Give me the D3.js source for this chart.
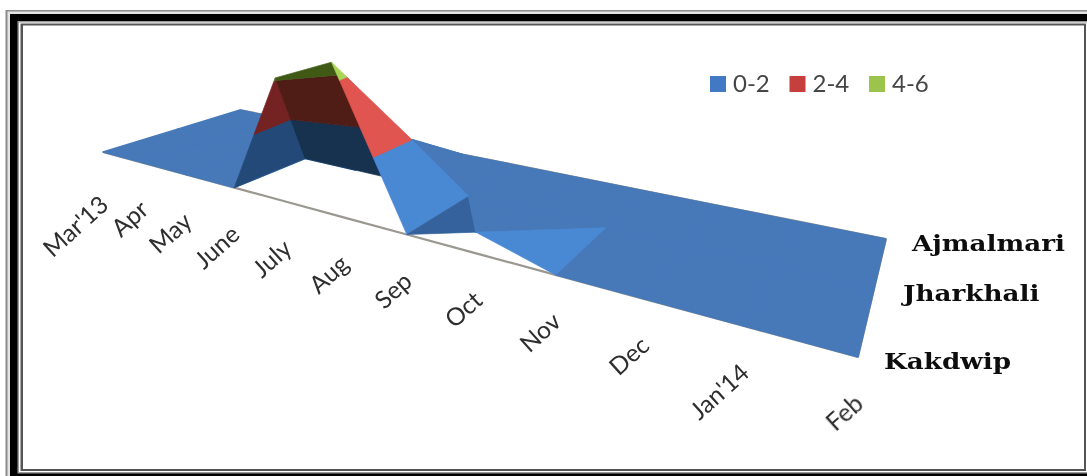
<!DOCTYPE html>
<html><head><meta charset="utf-8">
<style>html,body{margin:0;padding:0;background:#fff}svg{display:block}</style>
<script src="https://cdnjs.cloudflare.com/ajax/libs/d3/7.8.5/d3.min.js"></script>
</head><body><svg id="c" width="1087" height="476"></svg>
<script>
// ---- data ----
const months = ["Mar'13","Apr","May","June","July","Aug","Sep","Oct","Nov","Dec","Jan'14","Feb"];
const rows = ["Kakdwip","Jharkhali","Ajmalmari"];
const kakdwip   = [0,0,0,0,4.13,4.47,0,0.45,0,0,0,0];
const jharkhali = [0,0,0,0,0,2.0,0,0,0,0,0,0];
const ajmalmari = [0,0,0,0,0,0,0,0,0,0,0,0];
const bandNames = ["0-2","2-4","4-6"];
const bandEdges = [0,2,4,6];

const values = [kakdwip, jharkhali, ajmalmari];
const legendColor = ["#4279c4","#c53f3c","#9cc44c"];
const shades = {
  flat:   ["#4679b9","#4679b9","#4679b9"],
  lit:    ["#4a88d3","#e0544f","#a9d455"],
  shadow: ["#34629c","#7a2320","#4c6a1c"],
  under:  ["#244a78","#742220","#4c6a1c"],
  deep:   ["#17304f","#4f1a14","#3f5a17"]
};

// ---- scales ----
const uScale = d3.scalePoint().domain(d3.range(months.length)).range([0,1]);
const vScale = d3.scalePoint().domain(d3.range(rows.length)).range([0,1]);
const zScale = d3.scaleLinear().domain([0,1]).range([0,17.8]);

// perspective floor: unit square -> four screen corners
const corners = {x:[103,858,886,240], y:[152,357,239,110]};
function homography(c){
  const [x0,x1,x2,x3]=c.x,[y0,y1,y2,y3]=c.y;
  const dx1=x1-x2,dx2=x3-x2,sx=x0-x1+x2-x3,dy1=y1-y2,dy2=y3-y2,sy=y0-y1+y2-y3;
  const den=dx1*dy2-dx2*dy1;
  const g=(sx*dy2-dx2*sy)/den,h=(dx1*sy-sx*dy1)/den;
  return (u,v)=>{
    const w=1+g*u+h*v;
    return {w,x:(x0+(x1-x0+g*x1)*u+(x3-x0+h*x3)*v)/w,y:(y0+(y1-y0+g*y1)*u+(y3-y0+h*y3)*v)/w};
  };
}
const floorAt = homography(corners);
function project(r,m,z){
  const v=vScale(r);
  const p=floorAt(uScale(m),v);
  return [p.x-2.7*z*(1-3*v), p.y-zScale(z)*(1-0.28*v)/Math.pow(p.w,3)];
}
const svg=d3.select("#c");
const defs=svg.append("defs");
defs.append("filter").attr("id","soft").append("feGaussianBlur").attr("stdDeviation",0.55);
defs.append("filter").attr("id","softT").append("feGaussianBlur").attr("stdDeviation",0.45);

// ---- frame ----
const frame=svg.append("g");
[[5.5,10,1095,485,"#8c8c8c"],[7.5,11.5,1095,485,"#e4e4e4"],[10,14,1095,485,"#000"],
 [17.5,21,1090,473.5,"#9a9a9a"],[19,22.5,1087,472,"#fff"],[20.5,23.5,1086,471,"#555"],[23,25.5,1084,469,"#fff"]]
 .forEach(([a,b,c,d,f])=>frame.append("rect").attr("x",a).attr("y",b).attr("width",c-a).attr("height",d-b).attr("fill",f));

const chart=svg.append("g").attr("filter","url(#soft)");

// ---- floor outline ----
const line=d3.line();
const closed=d3.line().curve(d3.curveLinearClosed);
const floorPts=r=>months.map((_,m)=>project(r,m,0));
chart.append("path").attr("d",line(floorPts(0))).attr("fill","none").attr("stroke","#9a9890").attr("stroke-width",2.2);
chart.append("path").attr("d",line(floorPts(2))).attr("fill","none").attr("stroke","#a09a8c").attr("stroke-width",2);
chart.append("path").attr("d",line([project(2,11,0),project(1,11,0),project(0,11,0)])).attr("fill","none").attr("stroke","#a09a8c").attr("stroke-width",2);

// ---- surface: facets as lists of grid nodes [row,month,(floor?)] ----
function node(r,m,onFloor){return {r,m,z:onFloor?0:values[r][m]};}
function clipBand(poly,lo,hi){
  const clip=(pts,lim,keepAbove)=>{
    const out=[];
    pts.forEach((a,i)=>{
      const b=pts[(i+1)%pts.length];
      const ina=keepAbove?a.z>=lim:a.z<=lim, inb=keepAbove?b.z>=lim:b.z<=lim;
      if(ina) out.push(a);
      if(ina!==inb){const t=(lim-a.z)/(b.z-a.z);
        out.push({sx:a.sx+t*(b.sx-a.sx),sy:a.sy+t*(b.sy-a.sy),z:lim});}
    });
    return out;
  };
  return clip(clip(poly,lo,true),hi,false);
}
const facets=[];
for(let m=0;m<months.length-1;m++){
  facets.push({s:"flat",n:[node(1,m),node(1,m+1),node(2,m+1),node(2,m)]});
}
[0,1,2,8,9,10].forEach(m=>facets.push({s:"flat",n:[node(0,m),node(0,m+1),node(1,m+1),node(1,m)]}));
facets.push({s:"under",n:[node(0,3),node(0,4),node(1,3)]});
facets.push({s:"deep", n:[node(0,4),node(0,5),node(1,5,true),node(1,3)]});
facets.push({s:"lit",  n:[node(0,5),node(0,6),node(1,6),node(1,5)]});
facets.push({s:"shadow",n:[node(0,6),node(0,7),node(1,6)]});
facets.push({s:"flat", n:[node(0,7),node(1,7),node(1,6)]});
facets.push({s:"flat", n:[node(0,7),node(1,8),node(1,7)]});
facets.push({s:"lit",  n:[node(0,7),node(0,8),node(1,8)]});

facets.forEach(f=>{
  const poly=f.n.map(d=>{const [sx,sy]=project(d.r,d.m,d.z);return {sx,sy,z:d.z};});
  bandNames.forEach((_,b)=>{
    const pts=clipBand(poly,bandEdges[b],bandEdges[b+1]);
    if(pts.length<3) return;
    const col=shades[f.s][b];
    chart.append("path").attr("d",closed(pts.map(p=>[p.sx,p.sy])))
      .attr("fill",col).attr("stroke",col).attr("stroke-width",f.s==="flat"?1.4:0.7).attr("stroke-linejoin","round");
  });
});

// ---- text ----
const text=svg.append("g").attr("filter","url(#softT)");
months.forEach((t,m)=>{
  const [x,y]=project(0,m,0);
  text.append("text").attr("transform",`translate(${x+7},${y+(m===0?55:49)}) rotate(-42)`)
    .attr("text-anchor","end").attr("font-family","Lato").attr("font-size",24.5).attr("fill","#2e2e2e").text(t);
});
rows.forEach((t,r)=>{
  const [x,y]=project(r,11,0);
  text.append("text").attr("transform",`translate(${x+(r===1?29:26)},${y+11.5}) scale(1.14,1)`).attr("font-family","DejaVu Serif")
    .attr("font-weight","bold").attr("font-size",23).attr("fill","#111").text(t);
});
const legendX=d3.scalePoint().domain(bandNames).range([710,869]);
bandNames.forEach((t,i)=>{
  const x=legendX(t);
  svg.append("rect").attr("x",x).attr("y",76).attr("width",16).attr("height",16).attr("fill",legendColor[i]);
  text.append("text").attr("x",x+23).attr("y",92).attr("font-family","Lato").attr("font-size",24).attr("fill","#444").text(t);
});
</script></body></html>
